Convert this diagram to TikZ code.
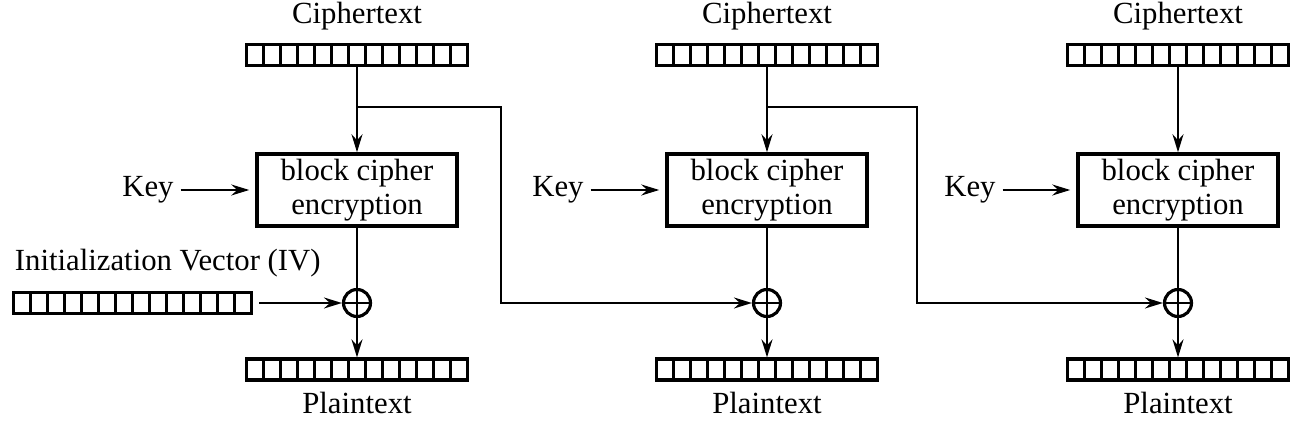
\documentclass[tikz,border=0pt]{standalone}
\usepackage{fontspec}
\setmainfont{Liberation Serif}
\usepackage{tikz}
\usetikzlibrary{
    arrows.meta,
    positioning
}

\begin{document}
\begin{tikzpicture}[
        x=0.02cm,
        y=-0.02cm,
        >={Stealth[length=0.36cm,width=0.22cm,inset=0.12cm]},
        line width=1.2pt,
        every node/.style={
            font=\fontsize{17.5}{19.5}\selectfont
        },
        bits/.style={
            draw,
            line width=1.8pt,
            inner sep=0pt,
            minimum height=0.42cm,
            minimum width=#1*0.34cm,
            path picture={
                \pgfmathtruncatemacro\lastcell{#1-1}
                \foreach \k in {1,...,\lastcell}
                    \draw[line width=1.4pt]
                        ([xshift=\k*0.34cm]path picture bounding box.south west) --
                        ([xshift=\k*0.34cm]path picture bounding box.north west);
            }
        },
        cipherbox/.style={
            draw,
            line width=2pt,
            align=center,
            inner sep=2pt,
            minimum width=4cm,
            minimum height=1.44cm
        },
        xorgate/.style={
            circle,
            draw,
            line width=1.8pt,
            inner sep=0pt,
            minimum size=0.54cm,
            path picture={
                \draw[line width=1.1pt]
                    (path picture bounding box.north) -- (path picture bounding box.south)
                    (path picture bounding box.west) -- (path picture bounding box.east);
            }
        }
    ]

    \useasboundingbox (0,0) rectangle (1315,421);

    % first block
    \node[anchor=base] (ctlbl1) at (357,24) {Ciphertext};
    \node[bits=13] (ct1) at (357,55) {};
    \node[cipherbox] (enc1) at (357,190) {block cipher\\encryption};
    \node (key1) at (148,190) {Key};
    \node[xorgate] (xor1) at (357,303) {};
    \node[bits=13] (pt1) at (357,369.5) {};
    \node[anchor=base] (ptlbl1) at (357,414) {Plaintext};

    \node[anchor=base west] (ivlbl) at (8,271) {Initialization Vector (IV)};
    \node[bits=14] (iv) at (132.5,303) {};

    % second block
    \node[anchor=base] (ctlbl2) at (767,24) {Ciphertext};
    \node[bits=13] (ct2) at (767,55) {};
    \node[cipherbox] (enc2) at (767,190) {block cipher\\encryption};
    \node (key2) at (558,190) {Key};
    \node[xorgate] (xor2) at (767,303) {};
    \node[bits=13] (pt2) at (767,369.5) {};
    \node[anchor=base] (ptlbl2) at (767,414) {Plaintext};

    % third block
    \node[anchor=base] (ctlbl3) at (1178,24) {Ciphertext};
    \node[bits=13] (ct3) at (1178,55) {};
    \node[cipherbox] (enc3) at (1178,190) {block cipher\\encryption};
    \node (key3) at (970,190) {Key};
    \node[xorgate] (xor3) at (1178,303) {};
    \node[bits=13] (pt3) at (1178,369.5) {};
    \node[anchor=base] (ptlbl3) at (1178,414) {Plaintext};

    \coordinate (fb1) at (501,107);
    \coordinate (fb2) at (917,107);

    \draw[->] (ct1) -- (enc1);
    \draw[->, shorten >=0.12cm] (key1) -- (enc1);
    \draw (enc1) -- (xor1);
    \draw[->] (xor1) -- (pt1);
    \draw[->, shorten <=0.12cm] (iv) -- (xor1);

    \draw[->] (ct2) -- (enc2);
    \draw[->, shorten >=0.12cm] (key2) -- (enc2);
    \draw (enc2) -- (xor2);
    \draw[->] (xor2) -- (pt2);

    \draw[->] (ct3) -- (enc3);
    \draw[->, shorten >=0.12cm] (key3) -- (enc3);
    \draw (enc3) -- (xor3);
    \draw[->] (xor3) -- (pt3);

    % chaining
    \draw[->] (ct1.south |- fb1) -- (fb1) |- (xor2);
    \draw[->] (ct2.south |- fb2) -- (fb2) |- (xor3);

\end{tikzpicture}
\end{document}
